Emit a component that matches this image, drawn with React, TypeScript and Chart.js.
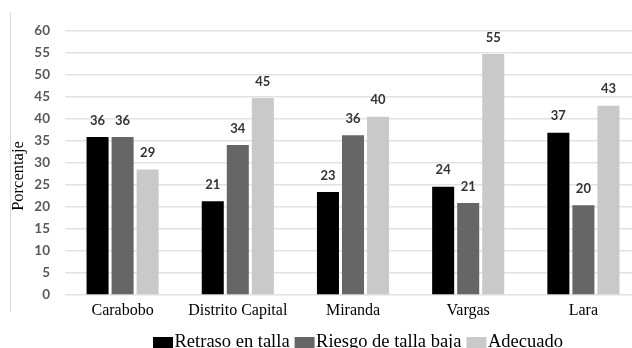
import { useEffect, useRef } from "react";
import { Chart, registerables } from "chart.js";

Chart.register(...registerables);

const categories = ["Carabobo", "Distrito Capital", "Miranda", "Vargas", "Lara"];
const seriesNames = ["Retraso en talla", "Riesgo de talla baja", "Adecuado"];
const retraso = [35.9, 21.3, 23.4, 24.6, 36.9];
const riesgo = [35.9, 34.1, 36.3, 20.9, 20.4];
const adecuado = [28.5, 44.8, 40.5, 54.8, 43.0];
const retrasoLabels = [36, 21, 23, 24, 37];
const riesgoLabels = [36, 34, 36, 21, 20];
const adecuadoLabels = [29, 45, 40, 55, 43];
const yTitle = "Porcentaje";
const yMin = 0;
const yMax = 60;
const yStep = 5;
const colors = ["#000000", "#666666", "#c9c9c9"];

const valueLabelPlugin = {
  id: "valueLabels",
  afterDatasetsDraw(chart: any) {
    const ctx = chart.ctx;
    const labelSets = [retrasoLabels, riesgoLabels, adecuadoLabels];
    ctx.save();
    ctx.font = "bold 13px Lato, 'Open Sans', sans-serif";
    ctx.fillStyle = "#333333";
    ctx.textAlign = "center";
    ctx.textBaseline = "middle";
    chart.data.datasets.forEach((_ds: any, i: number) => {
      const meta = chart.getDatasetMeta(i);
      meta.data.forEach((bar: any, j: number) => {
        ctx.fillText(String(labelSets[i][j]), bar.x, bar.y - 16.5);
      });
    });
    ctx.restore();
  },
};

const titlePlugin = {
  id: "yTitle",
  afterDraw(chart: any) {
    const ctx = chart.ctx;
    ctx.save();
    ctx.font = "16.5px 'Liberation Serif', 'DejaVu Serif', serif";
    ctx.fillStyle = "#000000";
    ctx.textAlign = "center";
    ctx.textBaseline = "middle";
    ctx.translate(19, 176);
    ctx.rotate(-Math.PI / 2);
    ctx.fillText(yTitle, 0, 0);
    ctx.restore();
  },
};

const legendPlugin = {
  id: "customLegend",
  afterDraw(chart: any) {
    const ctx = chart.ctx;
    ctx.save();
    ctx.font = "18.5px 'Liberation Serif', 'DejaVu Serif', serif";
    ctx.textBaseline = "alphabetic";
    ctx.textAlign = "left";
    const boxW = 20;
    const boxH = 11;
    const gap = 1.5;
    const itemGap = 5;
    const items = chart.data.datasets.map((ds: any) => ({
      text: ds.label,
      color: ds.backgroundColor,
      w: boxW + gap + ctx.measureText(ds.label).width,
    }));
    const total = items.reduce((s: number, it: any) => s + it.w, 0) + itemGap * (items.length - 1);
    const center = 358;
    let x = center - total / 2;
    const baseline = 346.5;
    items.forEach((it: any) => {
      ctx.fillStyle = it.color;
      ctx.fillRect(x, baseline - 9.5, boxW, boxH);
      ctx.fillStyle = "#000000";
      ctx.fillText(it.text, x + boxW + gap, baseline);
      x += it.w + itemGap;
    });
    ctx.restore();
  },
};

export default function App() {
  const ref = useRef<HTMLCanvasElement | null>(null);

  useEffect(() => {
    if (!ref.current) return;
    const chart = new Chart(ref.current, {
      type: "bar",
      data: {
        labels: categories,
        datasets: [
          { label: seriesNames[0], data: retraso, backgroundColor: colors[0] },
          { label: seriesNames[1], data: riesgo, backgroundColor: colors[1] },
          { label: seriesNames[2], data: adecuado, backgroundColor: colors[2] },
        ],
      },
      options: {
        responsive: false,
        animation: false,
        devicePixelRatio: 1,
        layout: { padding: { top: 31, right: 19, bottom: 23, left: 0 } },
        datasets: {
          bar: { categoryPercentage: 0.652, barPercentage: 0.88 },
        },
        plugins: {
          legend: { display: false },
          tooltip: { enabled: false },
        },
        scales: {
          x: {
            grid: { display: false, drawTicks: false },
            border: { display: false },
            ticks: {
              color: "#000000",
              font: { family: "'Liberation Serif', 'DejaVu Serif', serif", size: 16 },
              padding: 6,
              maxRotation: 0,
              autoSkip: false,
            },
            afterFit: (s: any) => {
              s.height = 30;
            },
          },
          y: {
            min: yMin,
            max: yMax,
            ticks: {
              stepSize: yStep,
              color: "#595959",
              font: { family: "Lato, 'Open Sans', sans-serif", size: 13.5, weight: "bold" },
              padding: 15,
            },
            grid: { color: "#e2e2e2", lineWidth: 1.6, drawTicks: false },
            border: { display: false },
            afterFit: (s: any) => {
              s.width = 65;
            },
          },
        },
      },
      plugins: [valueLabelPlugin, titlePlugin, legendPlugin],
    });
    return () => chart.destroy();
  }, []);

  return (
    <div
      style={{
        position: "fixed",
        left: 0,
        top: 0,
        width: 632,
        height: 348,
        overflow: "hidden",
        background: "#ffffff",
      }}
    >
      <div
        style={{
          position: "absolute",
          left: 10,
          top: 12,
          width: 1,
          height: 300,
          background: "#d9d9d9",
        }}
      />
      <canvas ref={ref} width={660} height={348} style={{ display: "block", width: 660, height: 348 }} />
    </div>
  );
}
